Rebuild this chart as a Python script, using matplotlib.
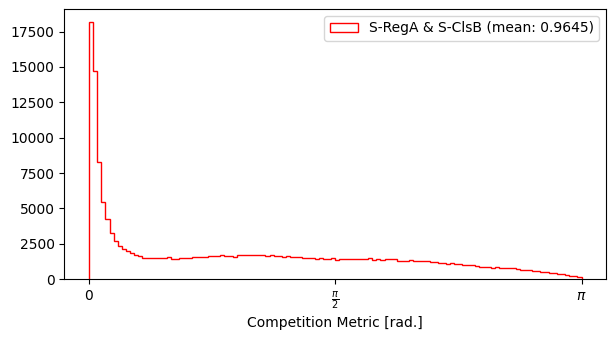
import numpy as np
import matplotlib
matplotlib.use("Agg")
import matplotlib.pyplot as plt

# histogram counts per bin, 120 bins spanning [0, pi]
counts = [
    18200, 14740, 8270, 5435, 4230, 3260, 2690, 2360, 2100, 1960,
    1820, 1720, 1630, 1510, 1510, 1500, 1500, 1500, 1510, 1540,
    1420, 1430, 1500, 1510, 1480, 1530, 1560, 1600, 1560, 1620,
    1640, 1650, 1720, 1650, 1650, 1600, 1690, 1680, 1680, 1690,
    1740, 1680, 1680, 1670, 1690, 1640, 1650, 1600, 1630, 1580,
    1560, 1600, 1500, 1500, 1500, 1450, 1460, 1450, 1450, 1500,
    1350, 1430, 1430, 1420, 1420, 1420, 1430, 1420, 1460, 1380,
    1420, 1380, 1420, 1420, 1410, 1300, 1290, 1290, 1330, 1300,
    1260, 1250, 1280, 1230, 1200, 1150, 1140, 1090, 1110, 1060,
    1040, 990, 990, 980, 900, 890, 880, 840, 800, 850,
    820, 800, 780, 770, 720, 660, 650, 640, 610, 600,
    540, 520, 460, 450, 380, 360, 300, 240, 190, 130,
]
label = "S-RegA & S-ClsB (mean: 0.9645)"
tick_vals = [0, np.pi / 2, np.pi]
tick_labels = ["0", r"$\frac{\pi}{2}$", r"$\pi$"]

edges = np.linspace(0, np.pi, len(counts) + 1)

fig, ax = plt.subplots(figsize=(6.16, 3.4), dpi=100)
fig.subplots_adjust(left=0.1045, right=0.984, top=0.974, bottom=0.179)
ax.hist(edges[:-1], bins=edges, weights=counts, histtype="step", color="red", label=label)
ax.set_xticks(tick_vals)
ax.set_xticklabels(tick_labels)
ax.set_xlabel("Competition Metric [rad.]")
ax.legend(loc="upper right")
fig.savefig("out.png", dpi=100)
